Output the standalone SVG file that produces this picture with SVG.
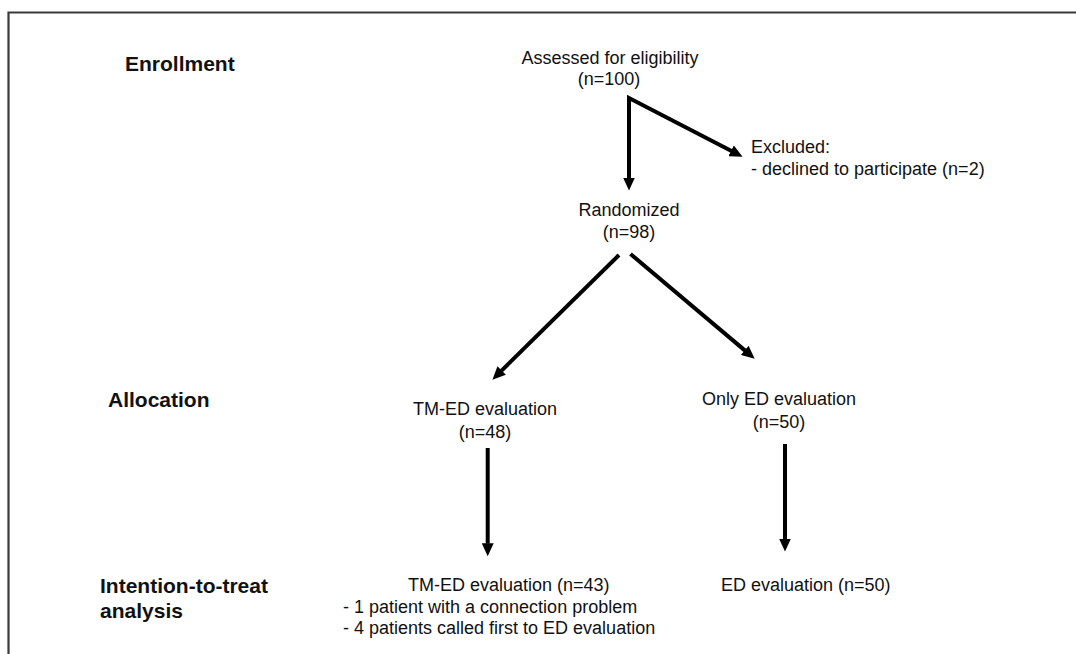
<svg xmlns="http://www.w3.org/2000/svg" width="1076" height="654" viewBox="0 0 1076 654">
<style>
.t{font-family:"Liberation Sans",Arial,sans-serif;font-size:18px;fill:#111}
.b{font-family:"Liberation Sans",Arial,sans-serif;font-size:21px;font-weight:bold;fill:#111}
.c{text-anchor:middle}
.a{fill:none;stroke:#000;stroke-width:4;stroke-linejoin:miter}
</style>
<defs>
<marker id="ah" markerUnits="userSpaceOnUse" markerWidth="14" markerHeight="12" refX="0.5" refY="6" orient="auto-start-reverse">
<path d="M0,0 L13,6 L0,12 z" fill="#000"/>
</marker>
</defs>
<rect width="1076" height="654" fill="#fff"/>
<path d="M8.5,654 V12.5 H1076" fill="none" stroke="#3a3a3a" stroke-width="2.2"/>
<g id="stage-labels">
<text class="b" x="125" y="71">Enrollment</text>
<text class="b" x="108" y="407">Allocation</text>
<text class="b" x="100" y="593">Intention-to-treat</text>
<text class="b" x="100" y="618">analysis</text>
</g>
<g id="assessed">
<text class="t c" x="610" y="64">Assessed for eligibility</text>
<text class="t c" x="609" y="85">(n=100)</text>
</g>
<g id="excluded">
<text class="t" x="751" y="153">Excluded:</text>
<text class="t" x="751" y="175">- declined to participate (n=2)</text>
</g>
<g id="randomized">
<text class="t c" x="629" y="216">Randomized</text>
<text class="t c" x="629" y="238">(n=98)</text>
</g>
<g id="tmed-alloc">
<text class="t c" x="485" y="415">TM-ED evaluation</text>
<text class="t c" x="485" y="438">(n=48)</text>
</g>
<g id="ed-alloc">
<text class="t c" x="779" y="405">Only ED evaluation</text>
<text class="t c" x="779" y="428">(n=50)</text>
</g>
<g id="tmed-itt">
<text class="t" x="408" y="591">TM-ED evaluation (n=43)</text>
<text class="t" x="343" y="613">- 1 patient with a connection problem</text>
<text class="t" x="343" y="634">- 4 patients called first to ED evaluation</text>
</g>
<g id="ed-itt">
<text class="t" x="721" y="591">ED evaluation (n=50)</text>
</g>
<g id="connectors">
<path class="a" d="M629,178 V98 L731.5,151" marker-start="url(#ah)" marker-end="url(#ah)"/>
<path class="a" d="M619,255 L501.3,370.9" marker-end="url(#ah)"/>
<path class="a" d="M630.5,254 L745.1,350.6" marker-end="url(#ah)"/>
<path class="a" d="M487.7,448 V543.7" marker-end="url(#ah)"/>
<path class="a" d="M785,444 V539" marker-end="url(#ah)"/>
</g>
</svg>
